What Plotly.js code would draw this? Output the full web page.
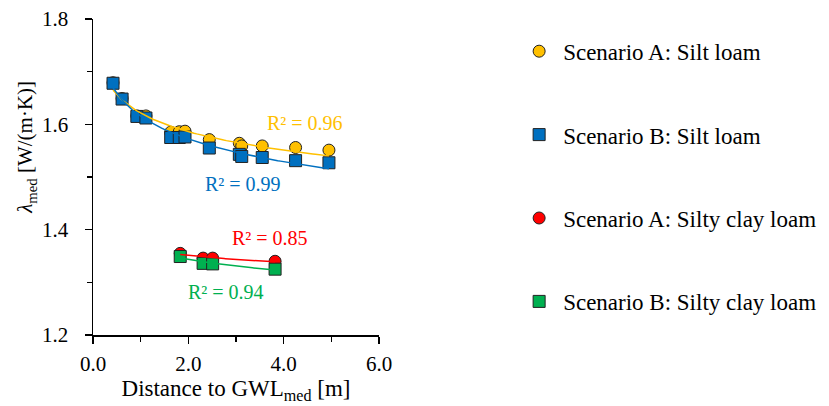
<!DOCTYPE html>
<html>
<head>
<meta charset="utf-8">
<script src="https://cdn.plot.ly/plotly-3.0.1.min.js"></script>
<style>html,body{margin:0;padding:0;background:#fff}#chart{width:829px;height:406px}</style>
</head>
<body>
<div id="chart"></div>
<script>
// Distance to GWL_med [m]
const xSilt = [0.42, 0.61, 0.92, 1.11, 1.63, 1.81, 1.93, 2.44, 3.07, 3.12, 3.55, 4.25, 4.95];
const ySiltA = [1.679, 1.649, 1.616, 1.616, 1.585, 1.586, 1.587, 1.571, 1.564, 1.559, 1.559, 1.556, 1.551];
const ySiltB = [1.678, 1.648, 1.615, 1.612, 1.575, 1.575, 1.576, 1.555, 1.543, 1.539, 1.537, 1.531, 1.527];
const xClay = [1.83, 2.31, 2.51, 3.82];
const yClayA = [1.355, 1.346, 1.346, 1.340];
const yClayB = [1.349, 1.336, 1.335, 1.325];
const seriesNames = ["Scenario A: Silt loam", "Scenario B: Silt loam", "Scenario A: Silty clay loam", "Scenario B: Silty clay loam"];
const r2Labels = ["R² = 0.96", "R² = 0.99", "R² = 0.85", "R² = 0.94"];

const colors = ["#FFC000", "#0070C0", "#FF0000", "#00B050"];
const symbols = ["circle", "square", "circle", "square"];
const xs = [xSilt, xSilt, xClay, xClay];
const ys = [ySiltA, ySiltB, yClayA, yClayB];

// logarithmic least-squares trendline (as a spreadsheet trendline)
function logFit(x, y) {
  const n = x.length;
  const lx = x.map(Math.log);
  const mx = lx.reduce((a, b) => a + b, 0) / n;
  const my = y.reduce((a, b) => a + b, 0) / n;
  let sxy = 0, sxx = 0;
  for (let i = 0; i < n; i++) { sxy += (lx[i] - mx) * (y[i] - my); sxx += (lx[i] - mx) ** 2; }
  const a = sxy / sxx, b = my - a * mx;
  const x0 = Math.min(...x), x1 = Math.max(...x);
  const tx = [], ty = [];
  for (let k = 0; k <= 80; k++) { const v = x0 + (x1 - x0) * k / 80; tx.push(v); ty.push(a * Math.log(v) + b); }
  return {tx, ty};
}

const FONT = "Liberation Serif, Times New Roman, serif";
const traces = [];
for (let i = 0; i < 4; i++) {
  traces.push({
    x: xs[i], y: ys[i], type: "scatter", mode: "markers", name: seriesNames[i],
    legendgroup: "g" + i,
    marker: {symbol: symbols[i], size: 12, color: colors[i], line: {color: "#222", width: 1}}
  });
}
for (let i = 0; i < 4; i++) {
  const f = logFit(xs[i], ys[i]);
  traces.push({x: f.tx, y: f.ty, type: "scatter", mode: "lines", showlegend: false, hoverinfo: "skip",
    line: {color: colors[i], width: 1.5}});
}

const annPos = [[305, 1.6025], [243, 1.486], [270, 1.385], [226, 1.282]];
const annotations = r2Labels.map((t, i) => ({
  text: t, xref: "paper", yref: "y", x: (annPos[i][0] - 92.7) / 286.6, y: annPos[i][1],
  showarrow: false, font: {family: FONT, size: 20, color: colors[i]}, xanchor: "center", yanchor: "middle"
}));
annotations.push({
  text: "<i>λ</i><sub>med</sub> [W/(m·K)]", xref: "paper", yref: "paper", x: (26 - 92.7) / 286.6, y: 0.594,
  textangle: -90, showarrow: false, font: {family: FONT, size: 21, color: "#000"}, xanchor: "center", yanchor: "middle"
});

const layout = {
  width: 829, height: 406,
  margin: {l: 93, r: 450, t: 19, b: 71, pad: 0, autoexpand: false},
  paper_bgcolor: "#fff", plot_bgcolor: "#fff",
  font: {family: FONT, size: 21, color: "#000"},
  showlegend: true,
  legend: {x: 1.476, y: 0.966, xanchor: "left", yanchor: "top", traceorder: "grouped", tracegroupgap: 50.5,
    maxheight: 1, itemwidth: 38,
    font: {family: FONT, size: 23, color: "#000"}, bgcolor: "rgba(0,0,0,0)"},
  xaxis: {range: [0, 6], dtick: 2, tickformat: ".1f", showgrid: false, zeroline: false,
    showline: true, linecolor: "#000", linewidth: 1.5, ticks: "outside", ticklen: 7, tickwidth: 1.5, tickcolor: "#000",
    minor: {dtick: 1, ticks: "outside", ticklen: 5, tickwidth: 1.5, tickcolor: "#000", showgrid: false},
    tickfont: {family: FONT, size: 21}, ticklabelstandoff: 2,
    title: {text: "Distance to GWL<sub>med</sub> [m]", font: {family: FONT, size: 23}, standoff: 2}},
  yaxis: {range: [1.2, 1.8], dtick: 0.2, tickformat: ".1f", showgrid: false, zeroline: false,
    showline: true, linecolor: "#000", linewidth: 1.5, ticks: "outside", ticklen: 7, tickwidth: 1.5, tickcolor: "#000",
    minor: {dtick: 0.1, ticks: "outside", ticklen: 5, tickwidth: 1.5, tickcolor: "#000", showgrid: false},
    tickfont: {family: FONT, size: 21}, ticklabelstandoff: 12},
  annotations: annotations
};

Plotly.newPlot("chart", traces, layout, {staticPlot: true, displayModeBar: false});
</script>
</body>
</html>
